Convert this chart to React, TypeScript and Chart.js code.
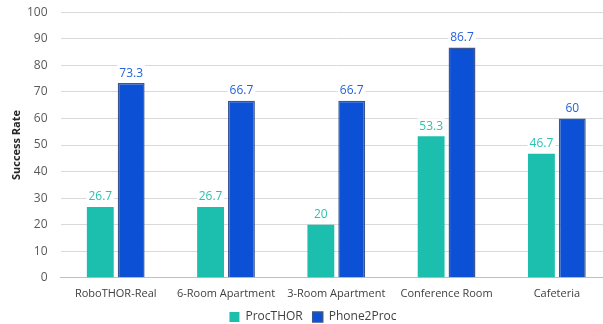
import React, { useEffect, useRef } from "react";
import { Chart, registerables } from "chart.js";

Chart.register(...registerables);

const categories = ["RoboTHOR-Real", "6-Room Apartment", "3-Room Apartment", "Conference Room", "Cafeteria"];
const procthor = [26.7, 26.7, 20, 53.3, 46.7];
const phone2proc = [73.3, 66.7, 66.7, 86.7, 60];
const yTicks = [0, 10, 20, 30, 40, 50, 60, 70, 80, 90, 100];
const yTitle = "Success Rate";

const FONT = "'Open Sans', 'Noto Sans', sans-serif";
const TEAL = "#1cbfad";
const BLUE = "#0b50d5";

const labelPlugin = {
  id: "valueLabels",
  afterDatasetsDraw(chart: any) {
    const ctx = chart.ctx;
    const colors = ["#2cc2b1", "#2463d9"];
    chart.data.datasets.forEach((ds: any, di: number) => {
      const meta = chart.getDatasetMeta(di);
      meta.data.forEach((el: any, i: number) => {
        const v = ds.data[i];
        const txt = String(v);
        ctx.save();
        ctx.font = `12px ${FONT}`;
        const w = ctx.measureText(txt).width;
        const x = el.x;
        const y = el.y - 10;
        ctx.fillStyle = "#ffffff";
        ctx.fillRect(x - w / 2 - 2, y - 8, w + 4, 15);
        ctx.fillStyle = colors[di];
        ctx.textAlign = "center";
        ctx.textBaseline = "middle";
        ctx.fillText(txt, x, y);
        ctx.restore();
      });
    });
  },
};

const yTitlePlugin = {
  id: "yTitle",
  afterDraw(chart: any) {
    const ctx = chart.ctx;
    const a = chart.chartArea;
    ctx.save();
    ctx.translate(17, (a.top + a.bottom) / 2);
    ctx.rotate(-Math.PI / 2);
    ctx.font = `bold 11px ${FONT}`;
    ctx.fillStyle = "#262626";
    ctx.textAlign = "center";
    ctx.textBaseline = "middle";
    ctx.fillText(yTitle, 0, 0);
    ctx.restore();
  },
};

export default function App() {
  const ref = useRef<HTMLCanvasElement>(null);
  useEffect(() => {
    if (!ref.current) return;
    const chart = new Chart(ref.current, {
      type: "bar",
      data: {
        labels: categories,
        datasets: [
          {
            label: "ProcTHOR",
            data: procthor,
            backgroundColor: TEAL,
            borderColor: TEAL,
            borderWidth: 0,
            barPercentage: 0.87,
            categoryPercentage: 0.56,
          },
          {
            label: "Phone2Proc",
            data: phone2proc,
            backgroundColor: BLUE,
            borderColor: "#3a5590",
            borderWidth: 1.5,
            barPercentage: 0.87,
            categoryPercentage: 0.56,
          },
        ],
      },
      options: {
        responsive: false,
        animation: false,
        layout: { padding: { top: 0, right: 0, left: 14, bottom: -9 } },
        plugins: {
          legend: {
            position: "bottom",
            labels: {
              boxWidth: 10,
              boxHeight: 10,
              padding: 10,
              color: "#404040",
              font: { family: FONT, size: 12 },
            },
          },
          tooltip: { enabled: false },
        },
        scales: {
          x: {
            grid: { display: false },
            border: { display: true, color: "#bfbfbf", width: 1 },
            ticks: { color: "#404040", font: { family: FONT, size: 11 }, padding: 1, maxRotation: 0 },
          },
          y: {
            min: 0,
            max: 100,
            afterBuildTicks: (axis: any) => {
              axis.ticks = yTicks.map((v) => ({ value: v }));
            },
            grid: { color: "#d9d9d9", drawTicks: false },
            border: { display: false },
            ticks: { color: "#595959", font: { family: FONT, size: 12 }, padding: 13 },
          },
        },
      },
      plugins: [labelPlugin, yTitlePlugin],
    });
    return () => chart.destroy();
  }, []);
  return (
    <div style={{ position: "fixed", left: 0, top: 0, width: 603, height: 324, overflow: "hidden", background: "#fff" }}>
      <canvas ref={ref} width={612} height={332} style={{ display: "block", position: "relative", top: -8 }} />
    </div>
  );
}
